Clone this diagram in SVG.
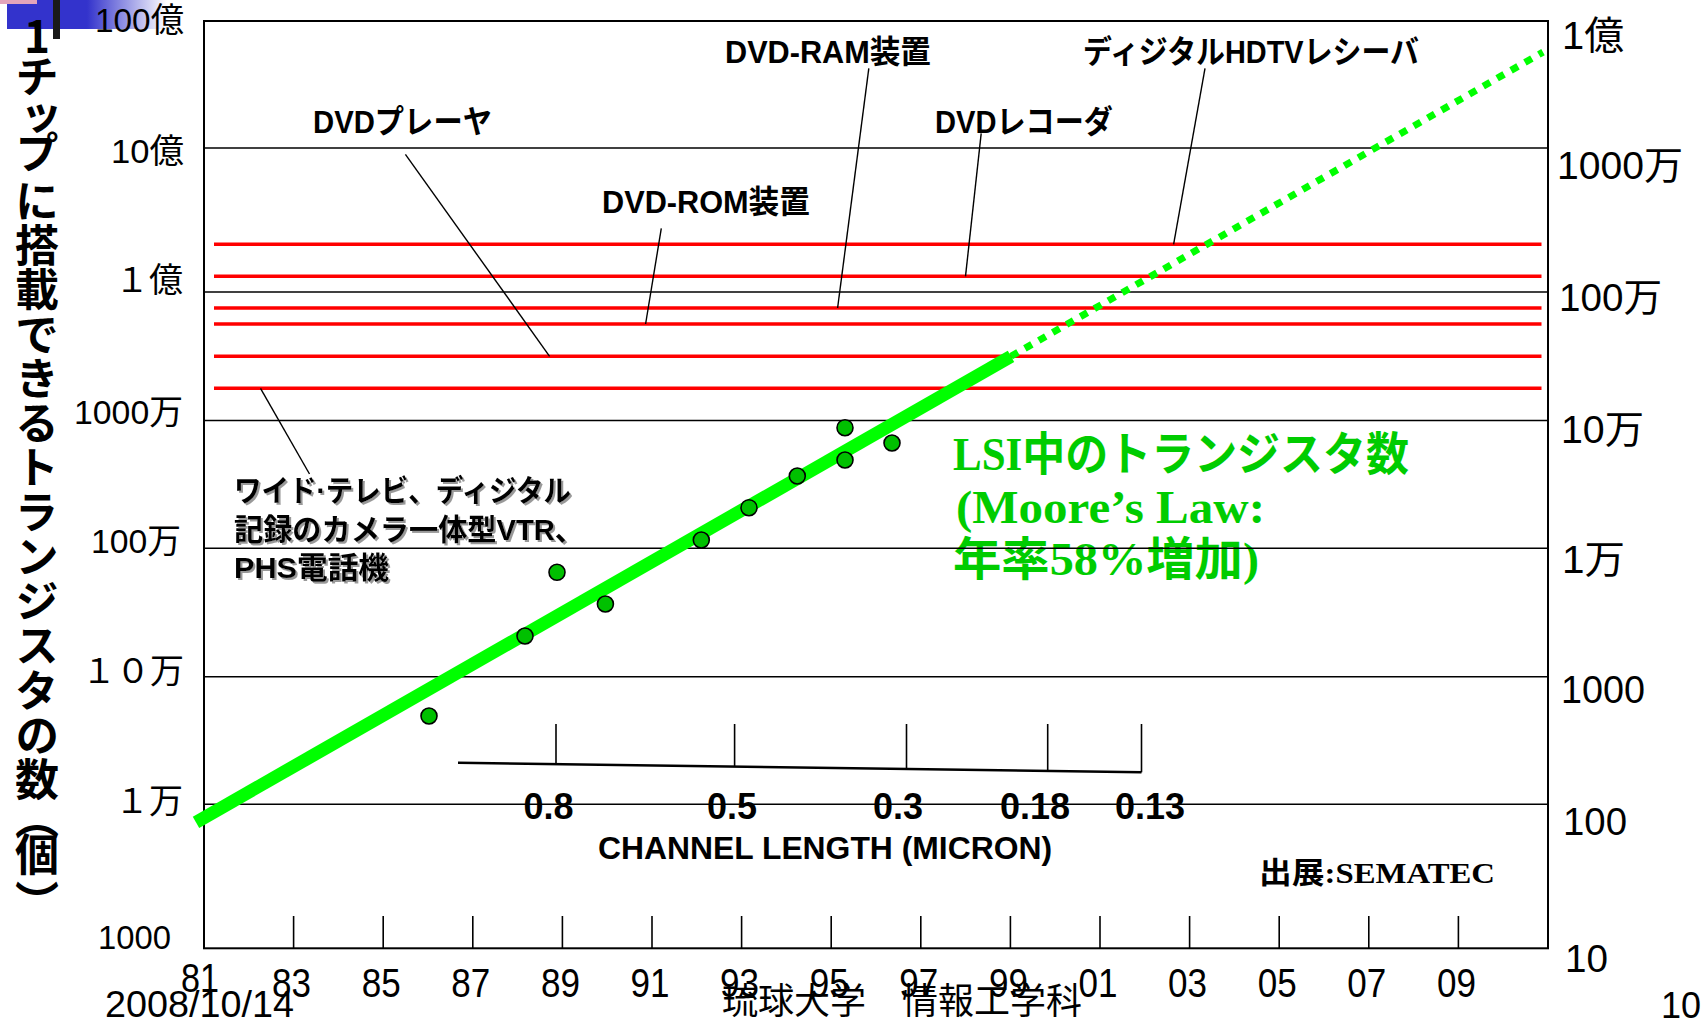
<svg xmlns="http://www.w3.org/2000/svg" width="1702" height="1022" viewBox="0 0 1702 1022">
<defs>
<linearGradient id="bf" x1="0" y1="0" x2="1" y2="0">
<stop offset="0" stop-color="#3333cc"/>
<stop offset="0.5" stop-color="#3333cc"/>
<stop offset="1" stop-color="#ffffff"/>
</linearGradient>
<filter id="sh" x="-5%" y="-20%" width="110%" height="140%">
<feDropShadow dx="2" dy="2" stdDeviation="0.4" flood-color="#808080" flood-opacity="0.8"/>
</filter>
<style>
text{font-family:"Liberation Sans","Noto Sans CJK JP",sans-serif;fill:#000}
.al{font-size:34px;text-anchor:end}
.ar{font-size:39px}
.yr{font-size:40px;text-anchor:middle}
.lb{font-size:32px;font-weight:bold}
.wl{font-size:30px;font-weight:bold}
.cl{font-size:36px;font-weight:bold;text-anchor:middle}
.cn{font-size:31.5px;font-weight:bold}
.gt{font-family:"Liberation Serif","Noto Sans CJK JP",serif;font-size:46px;font-weight:bold;fill:#00cc00}
.vt{font-family:"Noto Sans CJK JP",sans-serif;font-size:44px;font-weight:bold;writing-mode:vertical-rl;text-orientation:upright}
.ft{font-size:36px}
.grid line{stroke:#000;stroke-width:1.6}
.frame{fill:none;stroke:#000;stroke-width:2}
.red line{stroke:#ff0000;stroke-width:3.5}
.lead line{stroke:#000;stroke-width:1.4}
.tick line{stroke:#000;stroke-width:1.6}
.pt circle{fill:#00c000;stroke:#000;stroke-width:1.6}
</style>
</defs>
<rect width="1702" height="1022" fill="#ffffff"/>
<g id="decoration">
<rect x="7" y="0" width="160" height="29" fill="url(#bf)"/>
<rect x="0" y="0" width="37" height="4" fill="#e3a4bb"/>
<rect x="53" y="0" width="7" height="39" fill="#1a1a1a"/>
</g>
<g id="y-title">
<text class="vt" x="37" y="14 54 96 130 179 223 267 312 356 401 445 490 534 579 623 668 713 757 796 832 880">1チップに搭載できるトランジスタの数（個）</text>
</g>
<g id="left-axis-labels">
<text class="al" x="184" y="32" textLength="89" lengthAdjust="spacingAndGlyphs">100億</text>
<text class="al" x="184" y="163" textLength="73" lengthAdjust="spacingAndGlyphs">10億</text>
<text class="al" x="183" y="292">１億</text>
<text class="al" x="183" y="424" textLength="109" lengthAdjust="spacingAndGlyphs">1000万</text>
<text class="al" x="181" y="553" textLength="90" lengthAdjust="spacingAndGlyphs">100万</text>
<text class="al" x="184" y="683">１０万</text>
<text class="al" x="183" y="813">１万</text>
<text class="al" x="171" y="949" textLength="73" lengthAdjust="spacingAndGlyphs">1000</text>
</g>
<g id="right-axis-labels">
<text class="ar" x="1562" y="49" textLength="62" lengthAdjust="spacingAndGlyphs">1億</text>
<text class="ar" x="1557" y="179" textLength="126" lengthAdjust="spacingAndGlyphs">1000万</text>
<text class="ar" x="1559" y="311" textLength="103" lengthAdjust="spacingAndGlyphs">100万</text>
<text class="ar" x="1561" y="443" textLength="83" lengthAdjust="spacingAndGlyphs">10万</text>
<text class="ar" x="1562" y="573" textLength="63" lengthAdjust="spacingAndGlyphs">1万</text>
<text class="ar" x="1561" y="703" textLength="84" lengthAdjust="spacingAndGlyphs">1000</text>
<text class="ar" x="1563" y="835" textLength="64" lengthAdjust="spacingAndGlyphs">100</text>
<text class="ar" x="1565" y="972" textLength="43" lengthAdjust="spacingAndGlyphs">10</text>
</g>
<g id="year-labels">
<text class="yr" x="200" y="992" textLength="38" lengthAdjust="spacingAndGlyphs">81</text>
<text class="yr" x="291.6" y="997" textLength="39" lengthAdjust="spacingAndGlyphs">83</text>
<text class="yr" x="381.2" y="997" textLength="39" lengthAdjust="spacingAndGlyphs">85</text>
<text class="yr" x="470.8" y="997" textLength="39" lengthAdjust="spacingAndGlyphs">87</text>
<text class="yr" x="560.4" y="997" textLength="39" lengthAdjust="spacingAndGlyphs">89</text>
<text class="yr" x="650" y="997" textLength="39" lengthAdjust="spacingAndGlyphs">91</text>
<text class="yr" x="739.6" y="997" textLength="39" lengthAdjust="spacingAndGlyphs">93</text>
<text class="yr" x="829.2" y="997" textLength="39" lengthAdjust="spacingAndGlyphs">95</text>
<text class="yr" x="918.8" y="997" textLength="39" lengthAdjust="spacingAndGlyphs">97</text>
<text class="yr" x="1008.4" y="997" textLength="39" lengthAdjust="spacingAndGlyphs">99</text>
<text class="yr" x="1098" y="997" textLength="39" lengthAdjust="spacingAndGlyphs">01</text>
<text class="yr" x="1187.6" y="997" textLength="39" lengthAdjust="spacingAndGlyphs">03</text>
<text class="yr" x="1277.2" y="997" textLength="39" lengthAdjust="spacingAndGlyphs">05</text>
<text class="yr" x="1366.8" y="997" textLength="39" lengthAdjust="spacingAndGlyphs">07</text>
<text class="yr" x="1456.4" y="997" textLength="39" lengthAdjust="spacingAndGlyphs">09</text>
</g>
<g id="label-dvd-ram"><text class="lb" x="725" y="63" textLength="206" lengthAdjust="spacingAndGlyphs">DVD-RAM装置</text></g>
<g id="label-dvd-player"><text class="lb" x="313" y="133" textLength="179" lengthAdjust="spacingAndGlyphs">DVDプレーヤ</text></g>
<g id="label-dvd-rom"><text class="lb" x="602" y="213" textLength="208" lengthAdjust="spacingAndGlyphs">DVD-ROM装置</text></g>
<g id="label-dvd-recorder"><text class="lb" x="935" y="133" textLength="178" lengthAdjust="spacingAndGlyphs">DVDレコーダ</text></g>
<g id="label-hdtv"><text class="lb" x="1083" y="63" textLength="336" lengthAdjust="spacingAndGlyphs">ディジタルHDTVレシーバ</text></g>
<g id="label-wide" filter="url(#sh)">
<text class="wl" x="234" y="501" textLength="337" lengthAdjust="spacingAndGlyphs">ワイド·テレビ、ディジタル</text>
<text class="wl" x="234" y="540" textLength="350" lengthAdjust="spacingAndGlyphs">記録のカメラ一体型VTR、</text>
<text class="wl" x="234" y="578" textLength="155" lengthAdjust="spacingAndGlyphs">PHS電話機</text>
</g>
<g id="moore-title">
<text class="gt" x="953" y="470" textLength="456" lengthAdjust="spacingAndGlyphs">LSI中のトランジスタ数</text>
<text class="gt" x="956" y="523" textLength="309" lengthAdjust="spacingAndGlyphs">(Moore’s Law:</text>
<text class="gt" x="953" y="575" textLength="306" lengthAdjust="spacingAndGlyphs">年率58%増加)</text>
</g>
<g id="channel-axis">
<line x1="458" y1="762.7" x2="1141.5" y2="772.3" stroke="#000" stroke-width="2.5"/>
<g class="tick">
<line x1="556" y1="724" x2="556" y2="764.1"/>
<line x1="734.6" y1="724" x2="734.6" y2="766.6"/>
<line x1="906.5" y1="724" x2="906.5" y2="769"/>
<line x1="1047.7" y1="724" x2="1047.7" y2="771"/>
<line x1="1141.5" y1="724" x2="1141.5" y2="772.3"/>
</g>
<text class="cl" x="548.5" y="819">0.8</text>
<text class="cl" x="732" y="819">0.5</text>
<text class="cl" x="898" y="819">0.3</text>
<text class="cl" x="1035" y="819">0.18</text>
<text class="cl" x="1150" y="819">0.13</text>
<text class="cn" x="598" y="859" textLength="454" lengthAdjust="spacingAndGlyphs">CHANNEL LENGTH (MICRON)</text>
</g>
<g id="source">
<text x="1259" y="883" style="font-size:30px;font-weight:bold" textLength="236" lengthAdjust="spacingAndGlyphs">出展<tspan style="font-family:'Liberation Serif',serif">:SEMATEC</tspan></text>
</g>
<g id="footer">
<text class="ft" x="105" y="1017" textLength="189" lengthAdjust="spacingAndGlyphs">2008/10/14</text>
<text class="ft" x="722" y="1014" style="font-family:'Noto Sans CJK JP',sans-serif" textLength="360" lengthAdjust="spacingAndGlyphs">琉球大学　情報工学科</text>
<text class="ft" x="1661" y="1018">10</text>
</g>
<g id="plot">
<g class="grid">
<line x1="204" y1="148" x2="1548" y2="148"/>
<line x1="204" y1="292" x2="1548" y2="292"/>
<line x1="204" y1="420.5" x2="1548" y2="420.5"/>
<line x1="204" y1="548.3" x2="1548" y2="548.3"/>
<line x1="204" y1="676.7" x2="1548" y2="676.7"/>
<line x1="204" y1="804.3" x2="1548" y2="804.3"/>
</g>
<rect class="frame" x="204" y="21" width="1344" height="927.3"/>
<g class="tick">
<line x1="293.6" y1="916" x2="293.6" y2="948"/>
<line x1="383.2" y1="916" x2="383.2" y2="948"/>
<line x1="472.8" y1="916" x2="472.8" y2="948"/>
<line x1="562.4" y1="916" x2="562.4" y2="948"/>
<line x1="652" y1="916" x2="652" y2="948"/>
<line x1="741.6" y1="916" x2="741.6" y2="948"/>
<line x1="831.2" y1="916" x2="831.2" y2="948"/>
<line x1="920.8" y1="916" x2="920.8" y2="948"/>
<line x1="1010.4" y1="916" x2="1010.4" y2="948"/>
<line x1="1100" y1="916" x2="1100" y2="948"/>
<line x1="1189.6" y1="916" x2="1189.6" y2="948"/>
<line x1="1279.2" y1="916" x2="1279.2" y2="948"/>
<line x1="1368.8" y1="916" x2="1368.8" y2="948"/>
<line x1="1458.4" y1="916" x2="1458.4" y2="948"/>
</g>
</g>
<g id="connectors">
<g class="red">
<line x1="214" y1="244.3" x2="1541.5" y2="244.3"/>
<line x1="214" y1="276.3" x2="1541.5" y2="276.3"/>
<line x1="214" y1="308" x2="1541.5" y2="308"/>
<line x1="214" y1="324" x2="1541.5" y2="324"/>
<line x1="214" y1="356.3" x2="1541.5" y2="356.3"/>
<line x1="214" y1="388.3" x2="1541.5" y2="388.3"/>
</g>
<g class="lead">
<line x1="405.4" y1="154.3" x2="549.6" y2="356.3"/>
<line x1="661.3" y1="228.3" x2="645.6" y2="324"/>
<line x1="868.8" y1="68.3" x2="837.6" y2="308"/>
<line x1="981.2" y1="133.3" x2="965.5" y2="276.3"/>
<line x1="1205" y1="68.3" x2="1173.6" y2="244.3"/>
<line x1="260.5" y1="388.3" x2="309.5" y2="474"/>
</g>
<line id="trend" x1="196" y1="822.3" x2="1011" y2="356.3" stroke="#00ff00" stroke-width="13"/>
<line id="trend-forecast" x1="1011" y1="356.3" x2="1543" y2="52.1" stroke="#00ff00" stroke-width="7" stroke-dasharray="8 8"/>
</g>
<g id="data-points" class="pt">
<circle cx="429" cy="716" r="8"/>
<circle cx="557" cy="572.3" r="8"/>
<circle cx="525" cy="636" r="8"/>
<circle cx="605.4" cy="604" r="8"/>
<circle cx="701.3" cy="540" r="8"/>
<circle cx="749" cy="507.7" r="8"/>
<circle cx="797.3" cy="476" r="8"/>
<circle cx="845" cy="427.7" r="8"/>
<circle cx="845" cy="460" r="8"/>
<circle cx="892" cy="443" r="8"/>
</g>
</svg>
